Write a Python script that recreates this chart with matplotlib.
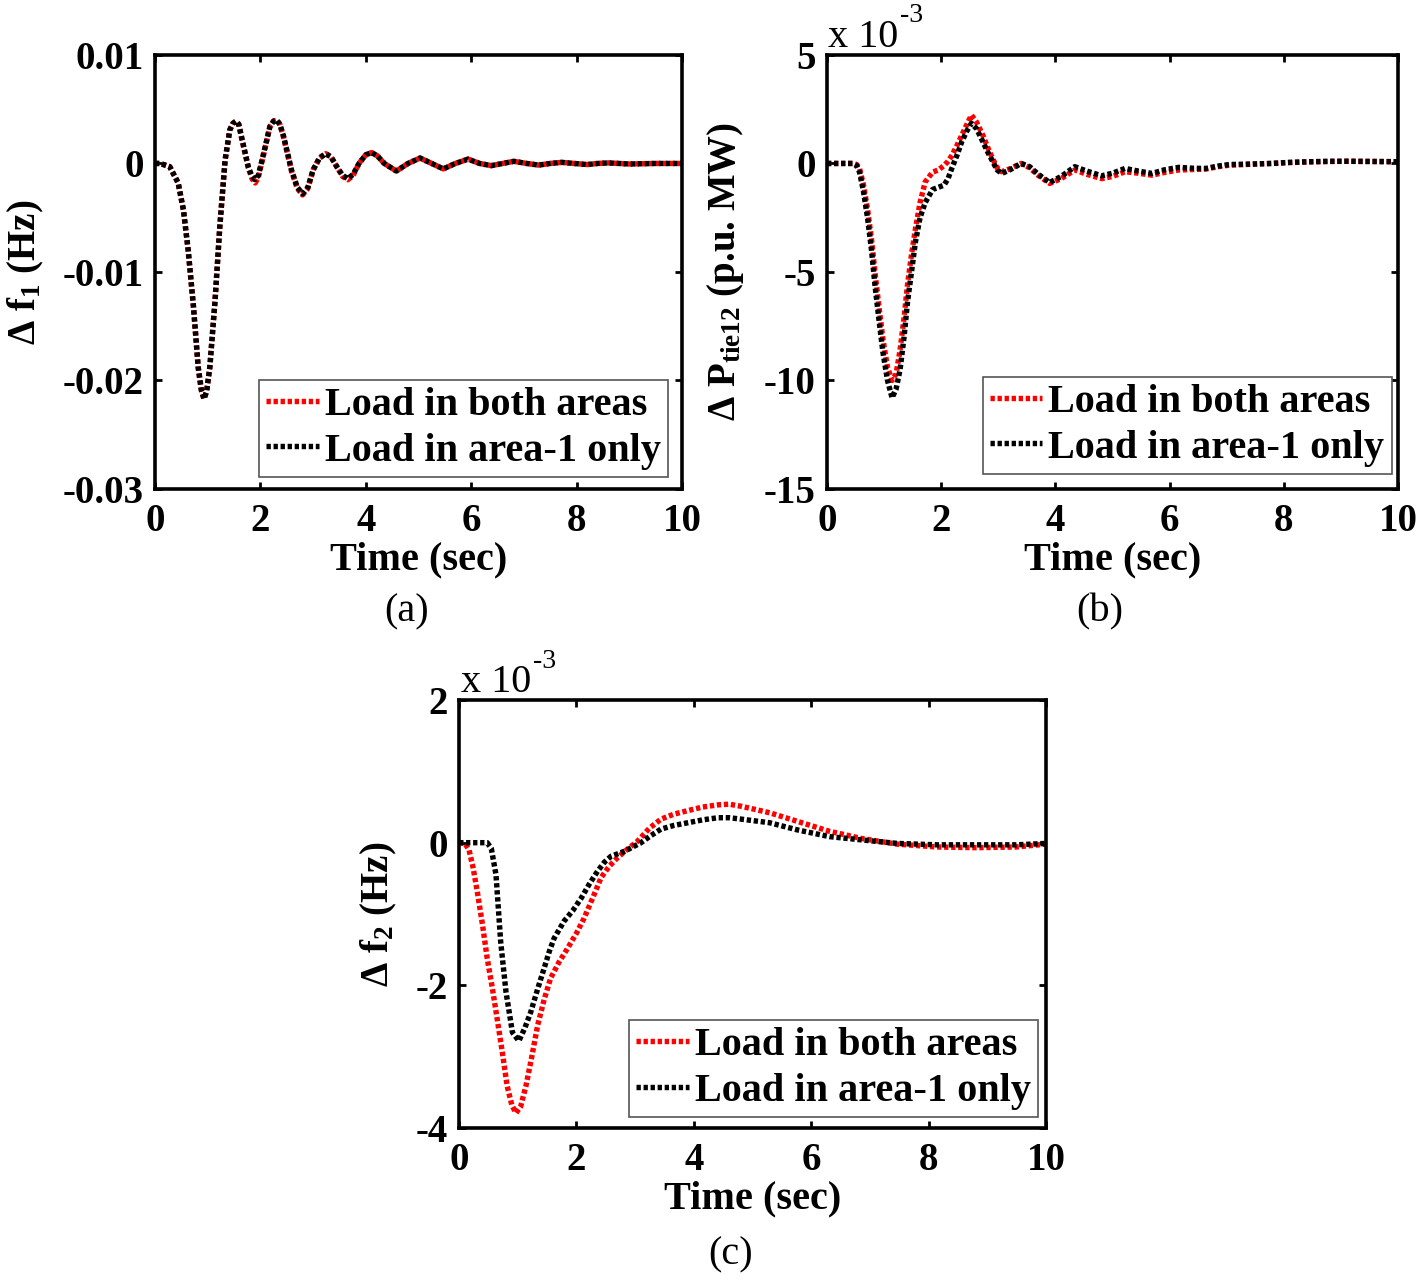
import matplotlib
matplotlib.use("Agg")
import matplotlib.pyplot as plt

plt.rcParams["font.family"] = "Liberation Serif"
plt.rcParams["font.weight"] = "bold"
plt.rcParams["axes.unicode_minus"] = False
plt.rcParams["mathtext.fontset"] = "custom"
plt.rcParams["mathtext.rm"] = "Liberation Serif:bold"
plt.rcParams["mathtext.default"] = "rm"

# ---- data ----
# (a) delta f1 (Hz), values in units of 1e-3
t_a = [0, 0.1, 0.28, 0.44, 0.54, 0.63, 0.73, 0.82, 0.88, 0.93,
       0.98, 1.04, 1.14, 1.23, 1.33, 1.42, 1.48, 1.54, 1.59, 1.64,
       1.77, 1.84, 1.90, 1.96, 2.06, 2.18, 2.25, 2.31, 2.37, 2.44,
       2.59, 2.70, 2.80, 2.90, 3.0, 3.12, 3.24, 3.34, 3.45, 3.56,
       3.66, 3.76, 3.87, 4.0, 4.11, 4.22, 4.35, 4.58, 4.80, 5.03,
       5.25, 5.47, 5.70, 5.94, 6.16, 6.38, 6.60, 6.81, 7.05, 7.28,
       7.50, 7.72, 7.95, 8.2, 8.4, 8.6, 8.8, 9.0, 9.5, 10]
f1_area1 = [0, 0, -0.3, -1.8, -4.3, -8.0, -13.2, -18.8, -20.9, -21.7,
            -21.0, -18.8, -12.6, -5.8, 0.3, 3.1, 3.7, 3.9, 3.6, 2.5,
            -0.3, -1.2, -1.5, -1.1, 0.9, 3.4, 3.9, 4.0, 3.6, 2.5,
            -0.6, -2.2, -2.8, -2.2, -0.6, 0.5, 0.9, 0.6, -0.3, -1.1,
            -1.4, -1.0, 0.0, 0.8, 1.0, 0.7, 0.0, -0.7, 0.0, 0.5,
            0.0, -0.5, 0.0, 0.4, 0.0, -0.2, 0.0, 0.2, 0.0, -0.15,
            0.0, 0.1, 0.0, -0.1, 0.0, 0.05, 0.0, -0.05, 0, 0]
f1_both = [0, 0, -0.3, -1.8, -4.3, -8.0, -13.2, -18.8, -20.9, -21.7,
           -21.0, -18.8, -12.6, -5.8, 0.3, 3.1, 3.7, 3.9, 3.6, 2.4,
           -0.4, -1.4, -1.8, -1.3, 0.8, 3.4, 3.9, 4.0, 3.6, 2.4,
           -0.7, -2.3, -2.9, -2.3, -0.6, 0.5, 0.9, 0.6, -0.3, -1.2,
           -1.5, -1.1, 0.0, 0.8, 1.0, 0.7, 0.0, -0.7, 0.0, 0.5,
           0.0, -0.5, 0.0, 0.4, 0.0, -0.2, 0.0, 0.2, 0.0, -0.15,
           0.0, 0.1, 0.0, -0.1, 0.0, 0.05, 0.0, -0.05, 0, 0]

# (b) delta P tie12 (p.u. MW), units of 1e-3
t_b = [0, 0.45, 0.52, 0.57, 0.64, 0.71, 0.78, 0.84, 0.91, 0.98,
       1.06, 1.14, 1.21, 1.28, 1.35, 1.41, 1.48, 1.55, 1.63, 1.72,
       1.85, 1.95, 2.05, 2.12, 2.19, 2.28, 2.36, 2.45, 2.53, 2.62,
       2.73, 2.82, 2.9, 2.98, 3.06, 3.2, 3.4, 3.55, 3.7, 3.9,
       4.1, 4.34, 4.55, 4.81, 5.0, 5.22, 5.45, 5.69, 5.9, 6.16,
       6.4, 6.63, 6.85, 7.04, 7.4, 7.78, 8.1, 8.45, 8.8, 9.12,
       9.6, 10]
p_area1 = [0, 0, -0.1, -0.4, -1.3, -2.5, -4.0, -5.6, -7.2, -8.7,
           -10.0, -10.8, -10.4, -9.5, -8.0, -6.4, -5.0, -3.6, -2.5, -1.8,
           -1.2, -1.1, -1.0, -0.7, -0.2, 0.4, 1.0, 1.5, 1.85, 1.6,
           1.0, 0.5, 0.1, -0.3, -0.46, -0.3, 0.0, -0.15, -0.5, -0.88,
           -0.6, -0.15, -0.35, -0.57, -0.45, -0.23, -0.35, -0.46, -0.3, -0.18,
           -0.22, -0.23, -0.12, -0.05, -0.03, 0.0, 0.05, 0.08, 0.1, 0.1,
           0.09, 0.08]
p_both = [0, 0, -0.05, -0.23, -1.0, -2.1, -3.5, -5.0, -6.6, -8.1,
          -9.4, -10.0, -9.7, -8.6, -7.1, -5.6, -4.2, -3.0, -1.8, -0.85,
          -0.4, -0.3, -0.1, 0.1, 0.38, 0.85, 1.3, 1.8, 2.23, 1.9,
          1.3, 0.7, 0.23, -0.2, -0.38, -0.25, 0.0, -0.2, -0.55, -0.92,
          -0.7, -0.3, -0.5, -0.7, -0.6, -0.38, -0.45, -0.54, -0.42, -0.3,
          -0.28, -0.26, -0.15, -0.08, -0.04, 0.0, 0.04, 0.07, 0.09, 0.1,
          0.09, 0.08]

# (c) delta f2 (Hz), units of 1e-3
t_c_both = [0, 0.1, 0.17, 0.24, 0.31, 0.40, 0.48, 0.57, 0.65, 0.74,
            0.82, 0.9, 0.97, 1.05, 1.14, 1.24, 1.34, 1.45, 1.56, 1.7,
            1.85, 2.0, 2.13, 2.28, 2.42, 2.56, 2.7, 2.87, 3.04, 3.24,
            3.44, 3.66, 3.9, 4.15, 4.41, 4.6, 4.81, 5.29, 5.76, 6.31,
            6.85, 7.46, 8.14, 8.81, 9.49, 10]
f2_both = [0, -0.01, -0.1, -0.35, -0.68, -1.15, -1.62, -2.05, -2.47, -2.95,
           -3.41, -3.68, -3.79, -3.7, -3.41, -3.0, -2.56, -2.2, -1.9, -1.68,
           -1.48, -1.27, -1.06, -0.77, -0.49, -0.33, -0.21, -0.09, 0.02, 0.2,
           0.33, 0.4, 0.45, 0.5, 0.53, 0.54, 0.51, 0.42, 0.3, 0.16,
           0.06, -0.02, -0.06, -0.07, -0.06, -0.02]
t_c_area1 = [0, 0.48, 0.55, 0.63, 0.71, 0.8, 0.91, 1.02, 1.12, 1.22,
             1.34, 1.45, 1.54, 1.62, 1.79, 1.94, 2.08, 2.22, 2.36, 2.48,
             2.59, 2.82, 2.96, 3.1, 3.27, 3.44, 3.65, 3.9, 4.15, 4.41,
             4.6, 4.81, 5.29, 5.76, 6.31, 6.85, 7.46, 8.14, 8.81, 9.49,
             10]
f2_area1 = [0, 0, -0.08, -0.45, -1.39, -2.09, -2.66, -2.78, -2.6, -2.38,
            -2.05, -1.76, -1.52, -1.34, -1.1, -0.95, -0.78, -0.58, -0.4, -0.27,
            -0.19, -0.12, -0.06, 0.0, 0.1, 0.19, 0.24, 0.28, 0.32, 0.35,
            0.35, 0.33, 0.28, 0.18, 0.085, 0.04, -0.01, -0.03, -0.03, -0.03,
            -0.01]

x_ticks = [0, 2, 4, 6, 8, 10]
labels = ["Load in both areas", "Load in area-1 only"]

a_ticks = [0.01, 0, -0.01, -0.02, -0.03]
a_ticklabels = ["0.01", "0", "-0.01", "-0.02", "-0.03"]
b_ticks = [5, 0, -5, -10, -15]
c_ticks = [2, 0, -2, -4]

fig = plt.figure(figsize=(14.18, 12.84), dpi=100)
ax_a = fig.add_axes([0.1093, 0.6192, 0.3717, 0.3380])
ax_b = fig.add_axes([0.5832, 0.6192, 0.4027, 0.3380])
ax_c = fig.add_axes([0.3237, 0.1215, 0.4140, 0.3333])

dot = (0, (0.8, 0.5))
lw = 3.9


def style(ax, yticks, yticklabels, ylim):
    ax.set_xlim(0, 10)
    ax.set_ylim(*ylim)
    ax.set_xticks(x_ticks)
    ax.set_xticklabels([str(v) for v in x_ticks])
    ax.set_yticks(yticks)
    ax.set_yticklabels(yticklabels)
    ax.tick_params(direction="in", top=True, right=True, length=5, width=2,
                   labelsize=28, pad=8)
    ax.tick_params(axis="x", pad=10)
    for s in ax.spines.values():
        s.set_linewidth(2.6)
    ax.set_xlabel("Time (sec)", fontsize=29, fontweight="bold", labelpad=1)


# (a)
ax_a.plot(t_a, [v * 1e-3 for v in f1_both], color="red", lw=lw, ls=dot,
          dash_capstyle="butt", label=labels[0])
ax_a.plot(t_a, [v * 1e-3 for v in f1_area1], color="black", lw=lw, ls=dot,
          dash_capstyle="butt", label=labels[1])
style(ax_a, a_ticks, a_ticklabels, (-0.03, 0.01))
ax_a.set_ylabel("Δ f$_{1}$ (Hz)", fontsize=28, fontweight="bold", va="center")
ax_a.yaxis.set_label_coords(-0.245, 0.5)

# (b)
ax_b.plot(t_b, p_both, color="red", lw=lw, ls=dot, dash_capstyle="butt",
          label=labels[0])
ax_b.plot(t_b, p_area1, color="black", lw=lw, ls=dot, dash_capstyle="butt",
          label=labels[1])
style(ax_b, b_ticks, [str(v) for v in b_ticks], (-15, 5))
ax_b.set_ylabel("Δ P$_{tie12}$ (p.u. MW)", fontsize=28, fontweight="bold",
                va="center")
ax_b.yaxis.set_label_coords(-0.178, 0.5)

# (c)
ax_c.plot(t_c_both, f2_both, color="red", lw=lw, ls=dot, dash_capstyle="butt",
          label=labels[0])
ax_c.plot(t_c_area1, f2_area1, color="black", lw=lw, ls=dot,
          dash_capstyle="butt", label=labels[1])
style(ax_c, c_ticks, [str(v) for v in c_ticks], (-4, 2))
ax_c.set_ylabel("Δ f$_{2}$ (Hz)", fontsize=28, fontweight="bold", va="center")
ax_c.yaxis.set_label_coords(-0.137, 0.5)

legend_anchor = {ax_a: (0.973, 0.028), ax_b: (0.989, 0.035), ax_c: (0.986, 0.026)}
for ax, anchor in legend_anchor.items():
    leg = ax.legend(loc="lower right", bbox_to_anchor=anchor, borderaxespad=0,
                    fancybox=False, framealpha=1, edgecolor="#555555",
                    prop={"size": 29, "weight": "bold"}, handlelength=1.3,
                    handletextpad=0.15, labelspacing=0.2, borderpad=0.18)
    leg.get_frame().set_linewidth(1.2)

# exponent notes, MATLAB style
fig.text(828 / 1418, 1 - 47 / 1284, "x 10", fontsize=29, fontweight="normal",
         va="baseline", ha="left")
fig.text(900 / 1418, 1 - 22 / 1284, "-3", fontsize=20, fontweight="normal",
         va="baseline", ha="left")
fig.text(461 / 1418, 1 - 692 / 1284, "x 10", fontsize=29, fontweight="normal",
         va="baseline", ha="left")
fig.text(533 / 1418, 1 - 668 / 1284, "-3", fontsize=20, fontweight="normal",
         va="baseline", ha="left")

# panel letters
fig.text(407 / 1418, 1 - 612 / 1284, "(a)", fontsize=29, fontweight="normal",
         ha="center", va="center")
fig.text(1100 / 1418, 1 - 612 / 1284, "(b)", fontsize=29, fontweight="normal",
         ha="center", va="center")
fig.text(731 / 1418, 1 - 1255 / 1284, "(c)", fontsize=29, fontweight="normal",
         ha="center", va="center")

fig.savefig("out.png", dpi=100)
